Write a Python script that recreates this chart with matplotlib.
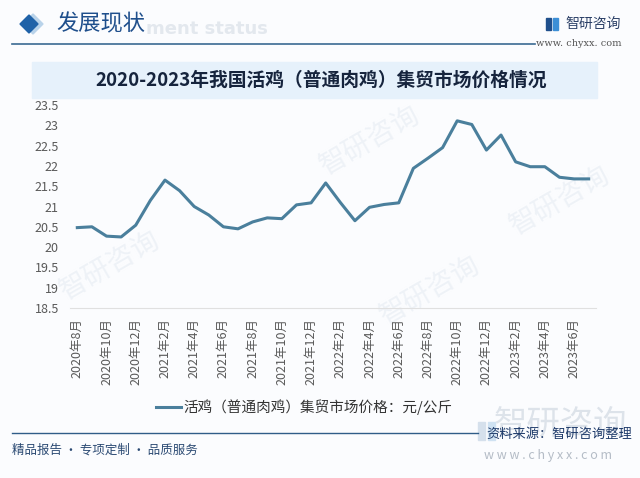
import matplotlib
matplotlib.use('Agg')
import matplotlib.pyplot as plt
from matplotlib.patches import Rectangle, Polygon

plt.rcParams['font.family'] = ['Noto Sans CJK SC', 'DejaVu Sans']

# Data: monthly live chicken (broiler) price at country fairs, yuan/kg
months = ['2020年8月', '2020年9月', '2020年10月', '2020年11月', '2020年12月',
          '2021年1月', '2021年2月', '2021年3月', '2021年4月', '2021年5月', '2021年6月',
          '2021年7月', '2021年8月', '2021年9月', '2021年10月', '2021年11月', '2021年12月',
          '2022年1月', '2022年2月', '2022年3月', '2022年4月', '2022年5月', '2022年6月',
          '2022年7月', '2022年8月', '2022年9月', '2022年10月', '2022年11月', '2022年12月',
          '2023年1月', '2023年2月', '2023年3月', '2023年4月', '2023年5月', '2023年6月',
          '2023年7月']
price = [20.48, 20.50, 20.27, 20.25, 20.54, 21.15, 21.65, 21.39, 21.00, 20.79, 20.50,
         20.45, 20.62, 20.72, 20.70, 21.04, 21.09, 21.58, 21.10, 20.65, 20.98, 21.05,
         21.09, 21.94, 22.19, 22.45, 23.11, 23.02, 22.39, 22.76, 22.10, 21.98, 21.98,
         21.72, 21.68, 21.68]
yticks = [18.5, 19, 19.5, 20, 20.5, 21, 21.5, 22, 22.5, 23, 23.5]
series_name = '活鸡（普通肉鸡）集贸市场价格：元/公斤'
title = '2020-2023年我国活鸡（普通肉鸡）集贸市场价格情况'

W, H = 640, 478
fig = plt.figure(figsize=(6.4, 4.78), dpi=100)
fig.patch.set_facecolor('#fbfcfe')

def fx(x):
    return x / W

def fy(y):
    return 1 - y / H

# faint watermarks
wm = dict(color='#eef2f7', fontsize=20, rotation=30, ha='center', va='center', zorder=-5)
for x, y in [(370, 140), (110, 265), (430, 290), (560, 200)]:
    fig.text(fx(x), fy(y), '智研咨询', **wm)

# header
fig.add_artist(Polygon([[fx(33), fy(14)], [fx(43), fy(24)], [fx(33), fy(34)], [fx(23), fy(24)]],
                       closed=True, color='#b9d3ea', transform=fig.transFigure, zorder=1))
fig.add_artist(Polygon([[fx(29), fy(15)], [fx(38), fy(24)], [fx(29), fy(33)], [fx(20), fy(24)]],
                       closed=True, color='#1f62a8', transform=fig.transFigure, zorder=2))
fig.text(fx(146), fy(29), 'ment status', fontsize=13, fontweight='bold', color='#e3e8ee',
         ha='left', va='center', family='DejaVu Sans', zorder=1)
fig.text(fx(56), fy(24), '发展现状', fontsize=16, color='#1f4f8c', ha='left', va='center', zorder=2)
fig.add_artist(plt.Line2D([fx(12), fx(535)], [fy(44), fy(44)], color='#3a6a93', lw=1.2,
                          transform=fig.transFigure))
# logo top right
fig.add_artist(Rectangle((fx(546), fy(30)), 5 / W, 12 / H, color='#1f4f8c', transform=fig.transFigure))
fig.add_artist(Rectangle((fx(553), fy(30)), 5 / W, 12 / H, color='#3c8fd6', transform=fig.transFigure))
fig.text(fx(565), fy(24), '智研咨询', fontsize=10, color='#2a3f66', ha='left', va='center')
fig.text(fx(622), fy(43), 'www. chyxx. com', fontsize=7, color='#555555', ha='right', va='center',
         family='DejaVu Serif')

# title band
fig.add_artist(Rectangle((fx(32), fy(98)), 565 / W, 36 / H, color='#e6f1fb',
                         transform=fig.transFigure, zorder=0))
fig.text(fx(321), fy(80), title, fontsize=13.5, fontweight='bold', color='#16243d',
         ha='center', va='center')

# chart
ax = fig.add_axes([fx(70), fy(308), 526 / W, 203 / H])
ax.set_facecolor('none')
x = list(range(len(months)))
ax.plot(x, price, color='#4a7f9c', lw=2.2, label=series_name)
ax.set_xlim(-0.5, len(months) - 0.5)
ax.set_ylim(18.5, 23.5)
ax.set_yticks(yticks)
ax.set_yticklabels([f'{v:g}' for v in yticks])
ax.set_xticks(x[::2])
ax.set_xticklabels(months[::2], rotation=90)
ax.tick_params(axis='both', length=0, labelsize=9, labelcolor='#595959')
ax.tick_params(axis='y', pad=8)
ax.tick_params(axis='x', pad=7)
for s in ['top', 'right', 'left']:
    ax.spines[s].set_visible(False)
ax.spines['bottom'].set_color('#e0e0e0')

fig.legend(loc='center', bbox_to_anchor=(fx(304), fy(407)), frameon=False, fontsize=10.5,
           handlelength=1.7, handletextpad=0.15, labelcolor='#333333')

# footer
fig.add_artist(plt.Line2D([fx(12), fx(478)], [fy(433), fy(433)], color='#2f5d88', lw=1.0,
                          transform=fig.transFigure))
fig.text(fx(560), fy(424), '智研咨询', fontsize=24, color='#dde3ea', ha='center', va='center', zorder=-1)
fig.add_artist(Rectangle((fx(478), fy(440)), 7 / W, 18 / H, color='#d5e0ec', transform=fig.transFigure, zorder=-1))
fig.add_artist(Rectangle((fx(488), fy(440)), 7 / W, 18 / H, color='#cfe2f2', transform=fig.transFigure, zorder=-1))
fig.text(fx(632), fy(434), '资料来源：智研咨询整理', fontsize=9.5, color='#1e3a6a', ha='right', va='center')
fig.text(fx(612), fy(456), 'w w w . c h y x x . c o m', fontsize=9, color='#b4bcc6', ha='right', va='center')
fig.text(fx(12), fy(450), '精品报告 · 专项定制 · 品质服务', fontsize=9, color='#2b4a73', ha='left', va='center')

fig.savefig('out.png', dpi=100, facecolor=fig.get_facecolor())
